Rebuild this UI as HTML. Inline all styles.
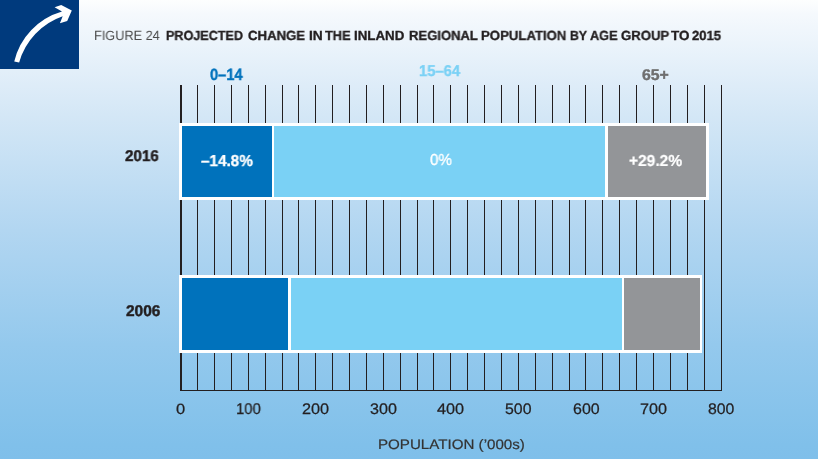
<!DOCTYPE html>
<html><head><meta charset="utf-8"><style>
*{margin:0;padding:0;box-sizing:border-box}
html,body{width:818px;height:459px;overflow:hidden}
body{position:relative;font-family:"Liberation Sans",sans-serif;text-rendering:geometricPrecision;
background:linear-gradient(to bottom,#fdfefe 0px,#f5f9fd 14px,#d4e7f6 115px,#b2d6f1 230px,#94c9ed 345px,#80c0ea 445px,#7fbfea 459px);}
.navy{position:absolute;left:0;top:0;width:79px;height:69px;background:#003a7d}
.tx{position:absolute;white-space:nowrap;line-height:1;transform-origin:0 0;will-change:transform}
.b{font-weight:bold}
.bar{position:absolute;background:#fff}
.seg{position:absolute;top:3px;bottom:3px}
svg{position:absolute;left:0;top:0}
</style></head><body>
<div class="navy"></div>
<svg width="818" height="459" viewBox="0 0 818 459">
<path d="M14.25 61.5 A68.7 68.7 0 0 1 62 11.6 L54.6 7.2 L61.2 5.1 L71.8 10.4 L67.2 20.9 L59.9 23.3 L62.7 16.3 A68.5 68.5 0 0 0 19.15 62.45 Z" fill="#fff"/>
<g fill="#231f20">
<rect x="197" y="85" width="1" height="305"/>
<rect x="214" y="85" width="1" height="305"/>
<rect x="231" y="85" width="1" height="305"/>
<rect x="248" y="85" width="1" height="305"/>
<rect x="265" y="85" width="1" height="305"/>
<rect x="282" y="85" width="1" height="305"/>
<rect x="298" y="85" width="1" height="305"/>
<rect x="315" y="85" width="1" height="305"/>
<rect x="332" y="85" width="1" height="305"/>
<rect x="349" y="85" width="1" height="305"/>
<rect x="366" y="85" width="1" height="305"/>
<rect x="383" y="85" width="1" height="305"/>
<rect x="400" y="85" width="1" height="305"/>
<rect x="417" y="85" width="1" height="305"/>
<rect x="433" y="85" width="1" height="305"/>
<rect x="450" y="85" width="1" height="305"/>
<rect x="467" y="85" width="1" height="305"/>
<rect x="484" y="85" width="1" height="305"/>
<rect x="501" y="85" width="1" height="305"/>
<rect x="518" y="85" width="1" height="305"/>
<rect x="535" y="85" width="1" height="305"/>
<rect x="552" y="85" width="1" height="305"/>
<rect x="569" y="85" width="1" height="305"/>
<rect x="585" y="85" width="1" height="305"/>
<rect x="602" y="85" width="1" height="305"/>
<rect x="619" y="85" width="1" height="305"/>
<rect x="636" y="85" width="1" height="305"/>
<rect x="653" y="85" width="1" height="305"/>
<rect x="670" y="85" width="1" height="305"/>
<rect x="687" y="85" width="1" height="305"/>
<rect x="704" y="85" width="1" height="305"/>
<rect x="721" y="85" width="1" height="305"/>
</g>
<rect x="180" y="85" width="2" height="306" fill="#231f20"/>
<rect x="180" y="390" width="542" height="1" fill="#231f20"/>
</svg>
<div class="bar" style="left:179px;top:123px;width:530px;height:77px">
 <div class="seg" style="left:3px;width:90px;background:#0072bc"></div>
 <div class="seg" style="left:95px;width:331px;background:#7ad1f5"></div>
 <div class="seg" style="left:429px;width:98px;background:#939598"></div>
</div>
<div class="bar" style="left:179px;top:275px;width:523px;height:78px">
 <div class="seg" style="left:3px;width:106px;background:#0072bc"></div>
 <div class="seg" style="left:112px;width:331px;background:#7ad1f5"></div>
 <div class="seg" style="left:445px;width:76px;background:#939598"></div>
</div>
<div class="tx" style="left:93.81px;top:28.75px;font-size:13.375px;transform:scaleX(0.9527);color:#4a4a4a">FIGURE 24</div>
<div class="tx" style="left:166.32px;top:29.37px;font-size:13.25px;transform:scaleX(0.95);color:#231f20;font-weight:bold;-webkit-text-stroke:0.35px #231f20">PROJECTED</div><div class="tx" style="left:248.31px;top:29.18px;font-size:13.25px;transform:scaleX(0.9935);color:#231f20;font-weight:bold;-webkit-text-stroke:0.35px #231f20">CHANGE</div><div class="tx" style="left:308.86px;top:28.82px;font-size:13.25px;transform:scaleX(1.0409);color:#231f20;font-weight:bold;-webkit-text-stroke:0.35px #231f20">IN</div><div class="tx" style="left:325.17px;top:28.59px;font-size:13.25px;transform:scaleX(0.9654);color:#231f20;font-weight:bold;-webkit-text-stroke:0.35px #231f20">THE</div><div class="tx" style="left:353.71px;top:28.82px;font-size:13.25px;transform:scaleX(1.0061);color:#231f20;font-weight:bold;-webkit-text-stroke:0.35px #231f20">INLAND</div><div class="tx" style="left:408.99px;top:28.89px;font-size:13.25px;transform:scaleX(0.9845);color:#231f20;font-weight:bold;-webkit-text-stroke:0.35px #231f20">REGIONAL</div><div class="tx" style="left:480.82px;top:29.17px;font-size:13.25px;transform:scaleX(0.9937);color:#231f20;font-weight:bold;-webkit-text-stroke:0.35px #231f20">POPULATION</div><div class="tx" style="left:570.34px;top:29.24px;font-size:13.25px;transform:scaleX(0.9258);color:#231f20;font-weight:bold;-webkit-text-stroke:0.35px #231f20">BY</div><div class="tx" style="left:589.94px;top:29.27px;font-size:13.25px;transform:scaleX(0.9578);color:#231f20;font-weight:bold;-webkit-text-stroke:0.35px #231f20">AGE</div><div class="tx" style="left:621.03px;top:29.16px;font-size:13.25px;transform:scaleX(0.9906);color:#231f20;font-weight:bold;-webkit-text-stroke:0.35px #231f20">GROUP</div><div class="tx" style="left:670.54px;top:29.4px;font-size:13.25px;transform:scaleX(1.015);color:#231f20;font-weight:bold;-webkit-text-stroke:0.35px #231f20">TO</div><div class="tx" style="left:692.31px;top:29.19px;font-size:13.25px;transform:scaleX(0.9874);color:#231f20;font-weight:bold;-webkit-text-stroke:0.35px #231f20">2015</div>
<div class="tx" style="left:209.86px;top:66.59px;font-size:16.375px;transform:scaleX(0.8972);color:#0072bc;font-weight:bold;-webkit-text-stroke:0.4px #0072bc">0–14</div>
<div class="tx" style="left:419.11px;top:63.91px;font-size:15.625px;transform:scaleX(0.9471);color:#7ad1f5;font-weight:bold;-webkit-text-stroke:0.4px #7ad1f5">15–64</div>
<div class="tx" style="left:642.28px;top:67.5px;font-size:15.5px;transform:scaleX(1.021);color:#6f6f6f;font-weight:bold;-webkit-text-stroke:0.4px #6f6f6f">65+</div>
<div class="tx" style="left:124.71px;top:148.77px;font-size:15.5px;transform:scaleX(0.9816);color:#231f20;font-weight:bold;-webkit-text-stroke:0.45px #231f20">2016</div>
<div class="tx" style="left:125.57px;top:303.87px;font-size:15.5px;transform:scaleX(0.9975);color:#231f20;font-weight:bold;-webkit-text-stroke:0.45px #231f20">2006</div>
<div class="tx" style="left:200.83px;top:153.58px;font-size:15.875px;transform:scaleX(0.9641);color:#fff;font-weight:bold;-webkit-text-stroke:0.3px #fff">–14.8%</div>
<div class="tx" style="left:429.97px;top:153.31px;font-size:16.0px;transform:scaleX(0.9408);color:#fff;-webkit-text-stroke:0.35px #fff">0%</div>
<div class="tx" style="left:629.45px;top:153.93px;font-size:15.875px;transform:scaleX(0.9779);color:#fff;font-weight:bold;-webkit-text-stroke:0.2px #fff">+29.2%</div>
<div style="color:#231f20">
<div class="tx" style="left:176.39px;top:402.98px;font-size:14.875px;transform:scaleX(1.1089);-webkit-text-stroke:0.25px #231f20">0</div>
<div class="tx" style="left:235.72px;top:401.99px;font-size:15.5px;transform:scaleX(0.9625);-webkit-text-stroke:0.25px #231f20">100</div>
<div class="tx" style="left:302.41px;top:402.15px;font-size:15.25px;transform:scaleX(1.0669);-webkit-text-stroke:0.25px #231f20">200</div>
<div class="tx" style="left:370.06px;top:401.69px;font-size:15.375px;transform:scaleX(1.0499);-webkit-text-stroke:0.25px #231f20">300</div>
<div class="tx" style="left:437.3px;top:401.62px;font-size:15.25px;transform:scaleX(1.0651);-webkit-text-stroke:0.25px #231f20">400</div>
<div class="tx" style="left:505.02px;top:402.11px;font-size:15.25px;transform:scaleX(1.04);-webkit-text-stroke:0.25px #231f20">500</div>
<div class="tx" style="left:572.66px;top:401.63px;font-size:15.25px;transform:scaleX(1.0479);-webkit-text-stroke:0.25px #231f20">600</div>
<div class="tx" style="left:639.91px;top:401.73px;font-size:15.25px;transform:scaleX(1.0617);-webkit-text-stroke:0.25px #231f20">700</div>
<div class="tx" style="left:707.83px;top:401.68px;font-size:15.25px;transform:scaleX(1.0363);-webkit-text-stroke:0.25px #231f20">800</div>
</div>
<div class="tx" style="left:378.14px;top:438.1px;font-size:13.75px;transform:scaleX(1.1002);color:#333;-webkit-text-stroke:0.2px #333">POPULATION (’000s)</div>
</body></html>
